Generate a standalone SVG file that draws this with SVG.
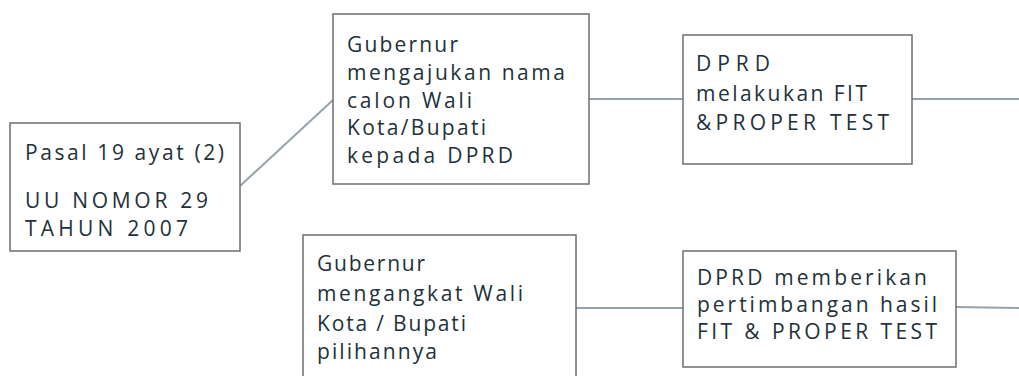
<svg xmlns="http://www.w3.org/2000/svg" width="1019" height="376" viewBox="0 0 1019 376">
  <style>
    .box { fill: #ffffff; stroke: #6e6e6e; stroke-width: 1.5; }
    .lbl { font-family: "Open Sans", "Noto Sans", sans-serif; font-size: 21px; font-weight: 500; fill: #22313a; }
    .conn { stroke: #95a3ab; stroke-width: 2; fill: none; }
  </style>
  <rect x="0" y="0" width="1019" height="376" fill="#ffffff"/>
  <g id="connectors">
    <line class="conn" x1="240" y1="186" x2="333" y2="100"/>
    <line class="conn" x1="589" y1="99" x2="683" y2="99"/>
    <line class="conn" x1="912" y1="99" x2="1019" y2="99"/>
    <line class="conn" x1="576" y1="308" x2="683" y2="308"/>
    <line class="conn" x1="956" y1="307" x2="1019" y2="308"/>
  </g>
  <g id="node-pasal">
    <rect class="box" x="10" y="123" width="230" height="128"/>
    <text class="lbl" x="25" y="160" textLength="199" lengthAdjust="spacing">Pasal 19 ayat (2)</text>
    <text class="lbl" x="25" y="208" textLength="183" lengthAdjust="spacing">UU NOMOR 29</text>
    <text class="lbl" x="25" y="236" textLength="163" lengthAdjust="spacing">TAHUN 2007</text>
  </g>
  <g id="node-gubernur-mengajukan">
    <rect class="box" x="333" y="14" width="256" height="170"/>
    <text class="lbl" x="347" y="52" textLength="111" lengthAdjust="spacing">Gubernur</text>
    <text class="lbl" x="347" y="80" textLength="218" lengthAdjust="spacing">mengajukan nama</text>
    <text class="lbl" x="347" y="108" textLength="125" lengthAdjust="spacing">calon Wali</text>
    <text class="lbl" x="347" y="135" textLength="139" lengthAdjust="spacing">Kota/Bupati</text>
    <text class="lbl" x="347" y="163" textLength="166" lengthAdjust="spacing">kepada DPRD</text>
  </g>
  <g id="node-dprd-fit">
    <rect class="box" x="683" y="35" width="229" height="129"/>
    <text class="lbl" x="696" y="71" textLength="74" lengthAdjust="spacing">DPRD</text>
    <text class="lbl" x="696" y="101" textLength="171" lengthAdjust="spacing">melakukan FIT</text>
    <text class="lbl" x="696" y="130" textLength="193" lengthAdjust="spacing">&amp;PROPER TEST</text>
  </g>
  <g id="node-gubernur-mengangkat">
    <rect class="box" x="303" y="235" width="273" height="160"/>
    <text class="lbl" x="317" y="271" textLength="108" lengthAdjust="spacing">Gubernur</text>
    <text class="lbl" x="317" y="301" textLength="206" lengthAdjust="spacing">mengangkat Wali</text>
    <text class="lbl" x="317" y="331" textLength="149" lengthAdjust="spacing">Kota / Bupati</text>
    <text class="lbl" x="317" y="359" textLength="120" lengthAdjust="spacing">pilihannya</text>
  </g>
  <g id="node-dprd-pertimbangan">
    <rect class="box" x="683" y="251" width="273" height="116"/>
    <text class="lbl" x="697" y="285" textLength="230" lengthAdjust="spacing">DPRD memberikan</text>
    <text class="lbl" x="697" y="312" textLength="240" lengthAdjust="spacing">pertimbangan hasil</text>
    <text class="lbl" x="697" y="339" textLength="240" lengthAdjust="spacing">FIT &amp; PROPER TEST</text>
  </g>
</svg>
